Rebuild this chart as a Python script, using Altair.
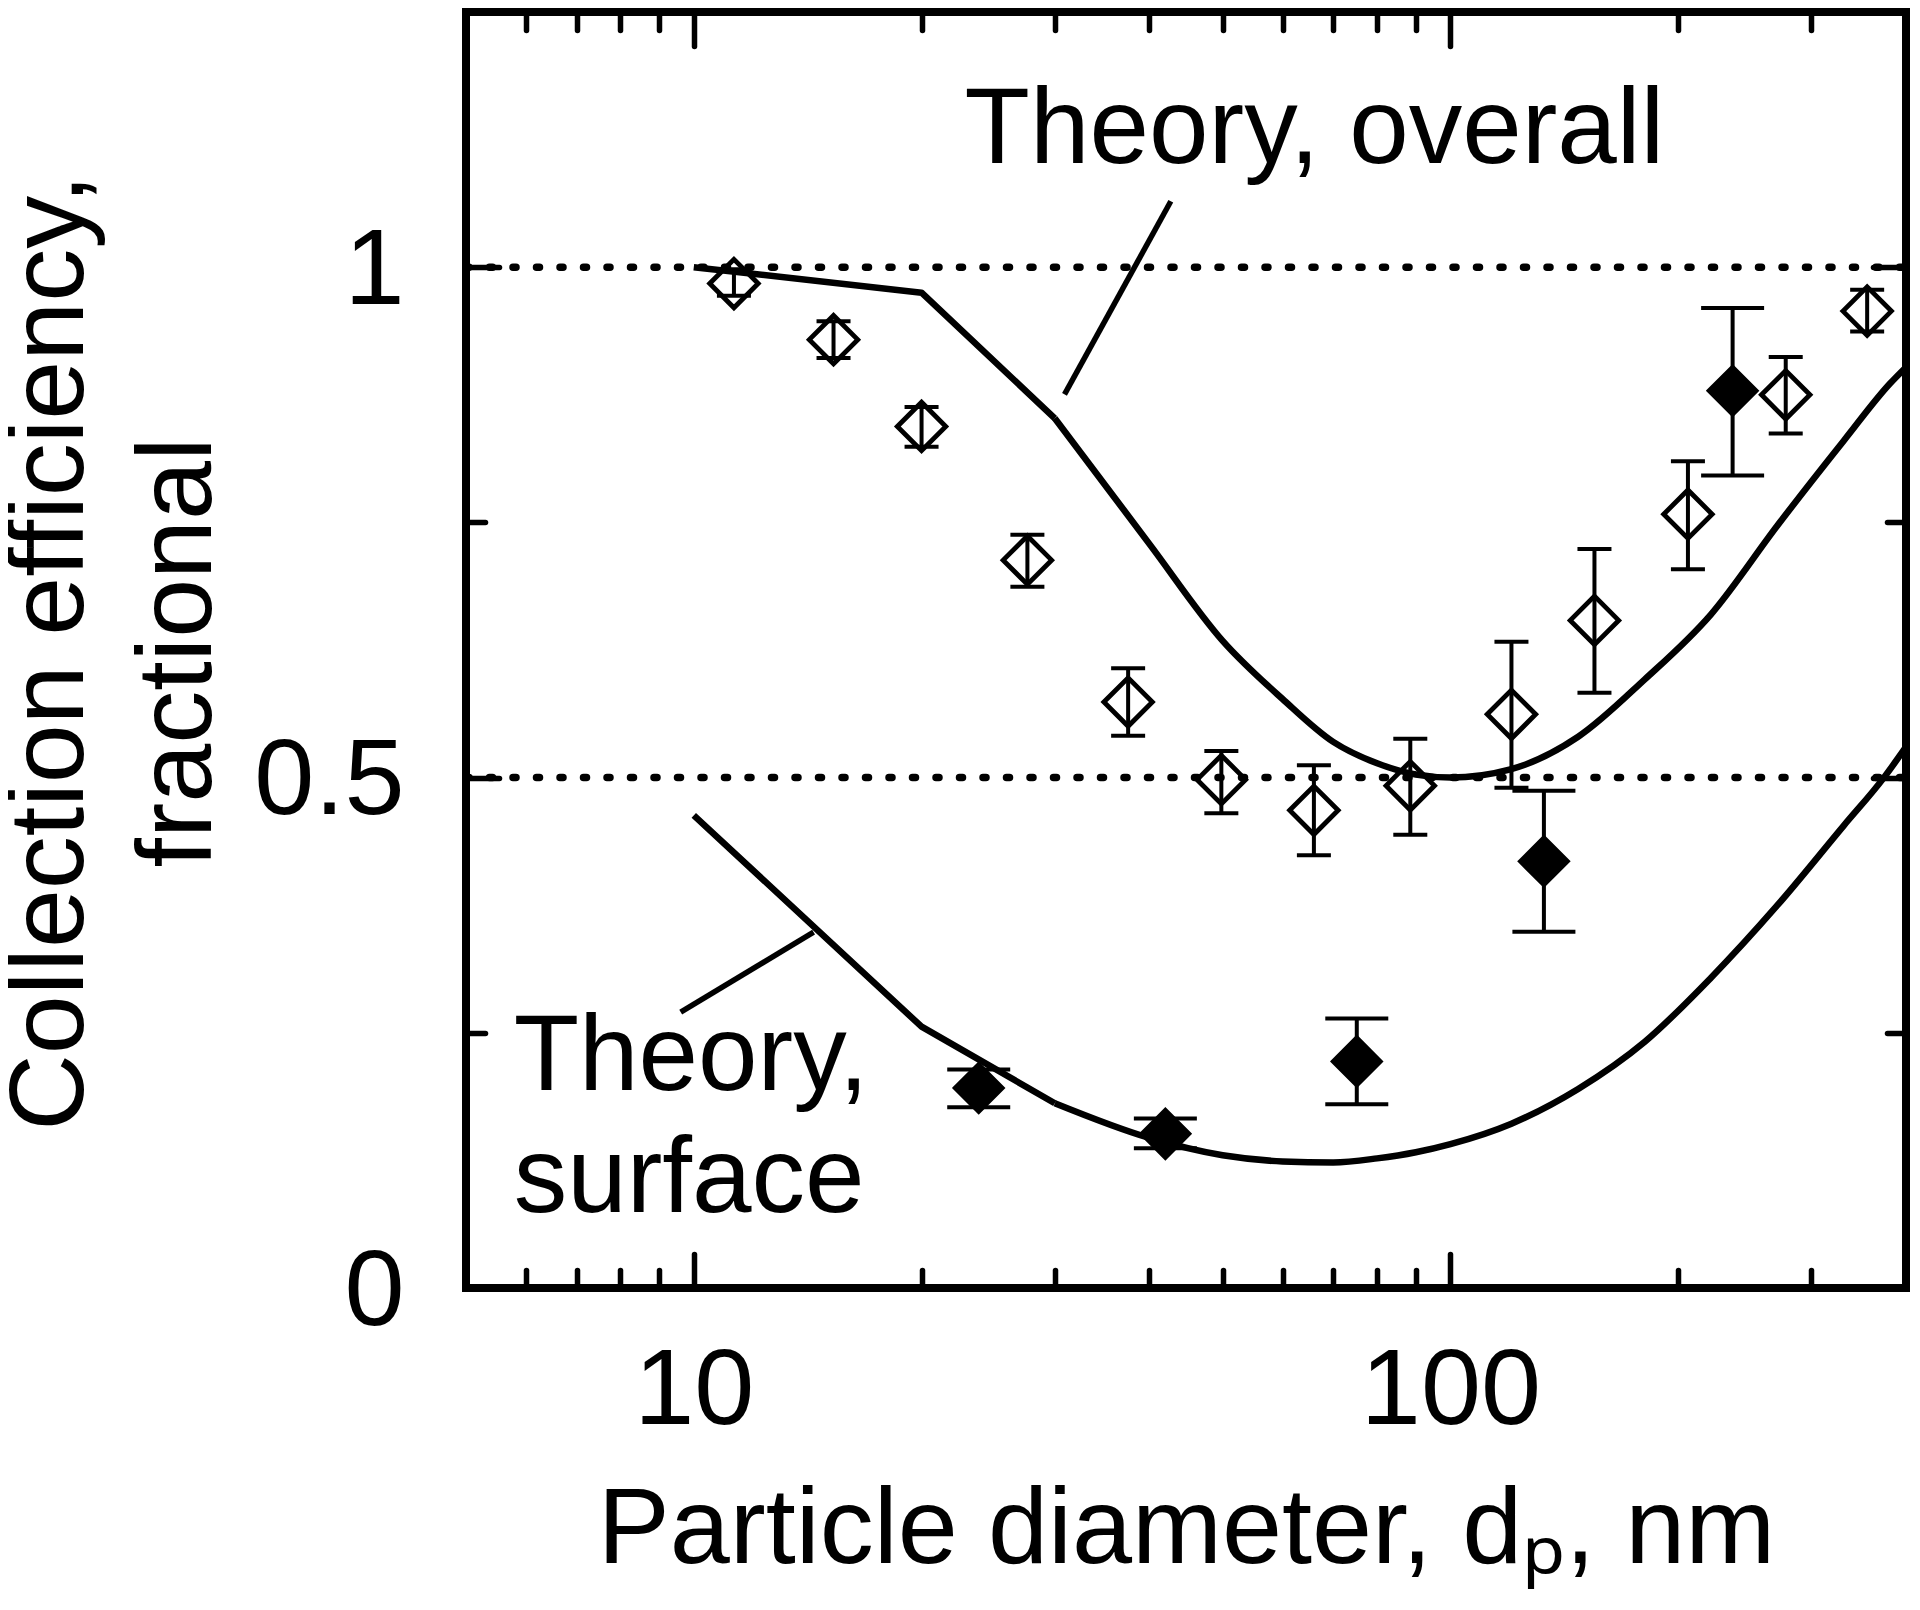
import altair as alt
import pandas as pd

FONT = "Liberation Sans"
W, H = 1440, 1276

# ---- data ----
# theory curves (x: particle diameter nm, y: efficiency)
# straight start (10, 20, 30 nm)
overall_x = [10, 20, 30]
overall_y = [1.000, 0.975, 0.852]
# smooth remainder
overall_x_hi = [30, 40, 50, 60, 70, 80, 90, 100, 120, 147.5, 180.5, 221, 270.5, 331, 381, 400]
overall_y_hi = [0.852, 0.729, 0.634, 0.577, 0.535, 0.514, 0.503, 0.500, 0.508, 0.540,
                0.596, 0.660, 0.747, 0.830, 0.886, 0.902]

surface_x = [10, 20, 30]
surface_y = [0.463, 0.256, 0.181]
surface_x_hi = [30, 40, 50, 60, 70, 80, 90, 100, 120.4, 147.5, 180.5, 221, 270.5, 331,
                374, 400]
surface_y_hi = [0.181, 0.147, 0.130, 0.124, 0.123, 0.127, 0.133, 0.141, 0.161, 0.195,
                0.241, 0.304, 0.375, 0.453, 0.500, 0.530]

# measured points, open diamonds
open_x = [11.3, 15.3, 20.0, 27.6, 37.5, 49.8, 66.0, 88.5, 120.4, 155, 206, 277.4, 355.4]
open_y = [0.984, 0.929, 0.844, 0.713, 0.574, 0.498, 0.468, 0.492, 0.562, 0.654, 0.758, 0.875, 0.957]
open_lo = [0.972, 0.911, 0.824, 0.687, 0.541, 0.465, 0.424, 0.444, 0.490, 0.583, 0.704, 0.837, 0.937]
open_hi = [0.998, 0.947, 0.863, 0.738, 0.607, 0.526, 0.512, 0.538, 0.633, 0.724, 0.810, 0.912, 0.978]

# measured points, filled diamonds
filled_x = [23.8, 42.0, 75.2, 132.9, 236]
filled_y = [0.196, 0.151, 0.222, 0.418, 0.879]
filled_lo = [0.177, 0.137, 0.180, 0.349, 0.796]
filled_hi = [0.214, 0.166, 0.264, 0.487, 0.960]

# reference levels
ref_levels = [1.0, 0.5]
x_domain = [5, 400]
y_domain = [0, 1.25]

# annotations
ann_text = ["Theory, overall", "Theory,\nsurface"]
ann_x = [22.8, 5.78]
ann_y = [1.1018, 0.1937]
lead_x = [42.7, 9.61]
lead_y = [1.0646, 0.2703]
lead_x2 = [30.9, 14.4]
lead_y2 = [0.8754, 0.3486]

# tick values
x_major = [10, 100]
x_minor = [6, 7, 8, 9, 20, 30, 40, 50, 60, 70, 80, 90, 200, 300]
y_major = [0.5, 1.0]
y_minor = [0.25, 0.75]

# ---- tables ----
df_ref = pd.DataFrame({"level": ref_levels, "x0": [x_domain[0]] * 2, "x1": [x_domain[1]] * 2})
df_over = pd.DataFrame({"x": overall_x, "y": overall_y})
df_over_hi = pd.DataFrame({"x": overall_x_hi, "y": overall_y_hi})
df_surf = pd.DataFrame({"x": surface_x, "y": surface_y})
df_surf_hi = pd.DataFrame({"x": surface_x_hi, "y": surface_y_hi})
df_open = pd.DataFrame({"x": open_x, "y": open_y, "lo": open_lo, "hi": open_hi})
df_fill = pd.DataFrame({"x": filled_x, "y": filled_y, "lo": filled_lo, "hi": filled_hi})
df_ann = pd.DataFrame({"t": ann_text, "x": ann_x, "y": ann_y})
df_lead = pd.DataFrame({"x": lead_x, "y": lead_y, "x2": lead_x2, "y2": lead_y2})

xs = alt.Scale(type="log", domain=x_domain, nice=False)
ys = alt.Scale(domain=y_domain, nice=False, zero=False)

LW = 6.5      # theory curve width
EW = 4        # error bar width


def tick_axis(orient, offset, values, size):
    return alt.Axis(orient=orient, offset=offset, values=values, tickSize=size,
                    tickWidth=5.5, tickColor="black", tickCap="round", ticks=True,
                    labels=False, domain=False, grid=False, title=None)


x_lab_axis = alt.Axis(orient="bottom", values=x_major, format="~g",
                      labelFont=FONT, labelFontSize=108, labelColor="black",
                      labelPadding=135, labelBaseline="alphabetic", labelFlush=False,
                      labelLimit=0, labelOverlap=False,
                      ticks=False, tickSize=0, domain=False, grid=False,
                      title="Particle diameter, d\u209a, nm", titleFont=FONT,
                      titleFontSize=108, titleFontWeight="normal", titleColor="black",
                      titleX=W / 2, titleY=274, titleAlign="center",
                      titleBaseline="alphabetic", titleLimit=0)
y_lab_axis = alt.Axis(orient="left", values=[0, 0.5, 1], format="~g",
                      labelFont=FONT, labelFontSize=108, labelColor="black",
                      labelPadding=62, labelAlign="right", labelBaseline="middle",
                      labelOffset=4, labelFlush=False, labelLimit=0, labelOverlap=False,
                      ticks=False, tickSize=0, domain=False, grid=False,
                      title=["Collection efficiency,", "fractional"], titleFont=FONT,
                      titleFontSize=106, titleFontWeight="normal", titleColor="black",
                      titleX=-384, titleY=640, titleAngle=270, titleAlign="center",
                      titleBaseline="alphabetic", titleLineHeight=128, titleLimit=0)

ref = alt.Chart(df_ref).mark_rule(color="black", strokeWidth=7.5, strokeDash=[3, 20.5],
                                  strokeCap="round").encode(
    x=alt.X("x0:Q", scale=xs, axis=x_lab_axis),
    x2="x1:Q",
    y=alt.Y("level:Q", scale=ys, axis=y_lab_axis),
)

over = alt.Chart(df_over).mark_line(color="black", strokeWidth=LW, strokeJoin="round").encode(
    x=alt.X("x:Q", scale=xs, axis=tick_axis("top", -H, x_major, 34)),
    y=alt.Y("y:Q", scale=ys, axis=tick_axis("right", -W, y_major, 33)),
    order="x:Q",
)
surf = alt.Chart(df_surf).mark_line(color="black", strokeWidth=LW, strokeJoin="round").encode(
    x=alt.X("x:Q", scale=xs, axis=tick_axis("top", -H, x_minor, 18)),
    y=alt.Y("y:Q", scale=ys, axis=tick_axis("right", -W, y_minor, 19)),
    order="x:Q",
)
over_hi = alt.Chart(df_over_hi).mark_line(color="black", strokeWidth=LW,
                                          interpolate="monotone").encode(
    x=alt.X("x:Q", scale=xs, axis=None),
    y=alt.Y("y:Q", scale=ys, axis=None),
    order="x:Q",
)
surf_hi = alt.Chart(df_surf_hi).mark_line(color="black", strokeWidth=LW,
                                          interpolate="monotone").encode(
    x=alt.X("x:Q", scale=xs, axis=None),
    y=alt.Y("y:Q", scale=ys, axis=None),
    order="x:Q",
)

err_open = alt.Chart(df_open).mark_rule(color="black", strokeWidth=EW).encode(
    x=alt.X("x:Q", scale=xs, axis=tick_axis("bottom", -H, x_major, 34)),
    y=alt.Y("lo:Q", scale=ys, axis=tick_axis("left", -W, y_major, 33)),
    y2="hi:Q",
)
err_fill = alt.Chart(df_fill).mark_rule(color="black", strokeWidth=EW).encode(
    x=alt.X("x:Q", scale=xs, axis=tick_axis("bottom", -H, x_minor, 18)),
    y=alt.Y("lo:Q", scale=ys, axis=tick_axis("left", -W, y_minor, 19)),
    y2="hi:Q",
)


def caps(df, col, width):
    return alt.Chart(df).mark_tick(color="black", orient="horizontal", size=width,
                                   thickness=EW, opacity=1).encode(
        x=alt.X("x:Q", scale=xs, axis=None),
        y=alt.Y(f"{col}:Q", scale=ys, axis=None),
    )


cap_layers = [caps(df_open, "lo", 34), caps(df_open, "hi", 34),
              caps(df_fill, "lo", 63), caps(df_fill, "hi", 63)]

pts_open = alt.Chart(df_open).mark_point(shape="diamond", filled=False, size=2350,
                                         strokeWidth=4.8, color="black", opacity=1).encode(
    x=alt.X("x:Q", scale=xs, axis=None),
    y=alt.Y("y:Q", scale=ys, axis=None),
)
pts_fill = alt.Chart(df_fill).mark_point(shape="diamond", filled=True, size=2500,
                                         stroke="black", strokeWidth=2.5, color="black",
                                         opacity=1).encode(
    x=alt.X("x:Q", scale=xs, axis=None),
    y=alt.Y("y:Q", scale=ys, axis=None),
)

leaders = alt.Chart(df_lead).mark_rule(color="black", strokeWidth=5.5).encode(
    x=alt.X("x:Q", scale=xs, axis=None),
    y=alt.Y("y:Q", scale=ys, axis=None),
    x2="x2:Q",
    y2="y2:Q",
)

texts = alt.Chart(df_ann).mark_text(align="left", baseline="alphabetic", font=FONT,
                                    fontSize=107, color="black", lineBreak="\n",
                                    lineHeight=122).encode(
    x=alt.X("x:Q", scale=xs, axis=None),
    y=alt.Y("y:Q", scale=ys, axis=None),
    text="t:N",
)

chart = alt.layer(
    ref, over, surf, over_hi, surf_hi, err_open, err_fill, *cap_layers,
    pts_open, pts_fill, leaders, texts
).resolve_axis(
    x="independent", y="independent"
).properties(
    width=W, height=H,
    padding={"left": 458, "top": 4, "right": 4, "bottom": 310},
    autosize=alt.AutoSizeParams(type="none"),
    background="white",
).configure(
    font=FONT,
    view=alt.ViewConfig(stroke="black", strokeWidth=8),
)

chart.save("out.html", embed_options={"renderer": "svg", "actions": False})
